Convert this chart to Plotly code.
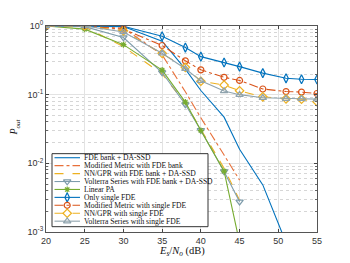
import plotly.graph_objects as go

# ---------------- data ----------------
x_bank = [20, 25, 30, 35, 38, 40, 43, 45, 48, 51]
fde_bank_dassd = [1.0, 1.0, 0.98, 0.60, 0.235, 0.115, 0.047, 0.016, 0.00485, 0.0007]

x_bank45 = [20, 25, 30, 35, 38, 40, 43, 45]
mod_metric_bank = [1.0, 1.0, 0.93, 0.38, 0.11, 0.046, 0.0132, 0.0057]
nn_gpr_bank = [1.0, 0.97, 0.50, 0.20, 0.075, 0.032, 0.0085, 0.0029]
volterra_bank = [1.0, 0.98, 0.68, 0.21, 0.072, 0.0304, 0.0076, 0.00276]
linear_pa = [1.0, 0.90, 0.535, 0.228, 0.078, 0.030, 0.0077, 0.0007]

x_single = [20, 25, 30, 35, 38, 40, 43, 45, 48, 51, 53, 55]
only_single = [1.0, 1.0, 0.99, 0.71, 0.485, 0.358, 0.294, 0.256, 0.206, 0.173, 0.168, 0.166]
mod_metric_single = [1.0, 1.0, 0.90, 0.52, 0.311, 0.23, 0.179, 0.161, 0.121, 0.111, 0.109, 0.104]
nn_gpr_single = [1.0, 1.0, 0.85, 0.40, 0.25, 0.157, 0.138, 0.114, 0.093, 0.087, 0.086, 0.079]
volterra_single = [1.0, 1.0, 0.82, 0.40, 0.238, 0.159, 0.113, 0.10, 0.09, 0.087, 0.087, 0.086]

x_ticks = [20, 25, 30, 35, 40, 45, 50, 55]
y_ticks = [1e-3, 1e-2, 1e-1, 1]
y_ticktext = ["10<sup>-3</sup>", "10<sup>-2</sup>", "10<sup>-1</sup>", "10<sup>0</sup>"]
y_minor = [m * 10.0 ** e for e in (-3, -2, -1) for m in range(2, 10)]

names = [
    "FDE bank + DA-SSD",
    "Modified Metric with FDE bank",
    "NN/GPR with FDE bank + DA-SSD",
    "Volterra Series with FDE bank + DA-SSD",
    "Linear PA",
    "Only single FDE",
    "Modified Metric with single FDE",
    "NN/GPR with single FDE",
    "Volterra Series with single FDE",
]

BLUE = "#0072BD"
ORANGE = "#D95319"
ORANGE2 = "#E8703A"
YELLOW = "#EDB120"
GREY = "#7E9CAB"
GREY2 = "#8FA3AD"
GREEN = "#77AC30"

styles = [
    dict(color=BLUE, dash="solid", symbol=None, size=6),
    dict(color=ORANGE2, dash="dashdot", symbol=None, size=6),
    dict(color=YELLOW, dash="dash", symbol=None, size=6),
    dict(color=GREY, dash="solid", symbol="triangle-down-open", size=6.5),
    dict(color=GREEN, dash="solid", symbol="asterisk-open", size=5),
    dict(color=BLUE, dash="solid", symbol="diamond-tall-open", size=6.5),
    dict(color=ORANGE, dash="dashdot", symbol="circle-open", size=6),
    dict(color=YELLOW, dash="dash", symbol="diamond-open", size=6.5),
    dict(color=GREY2, dash="solid", symbol="triangle-up-open", size=6.5),
]

series = [
    (x_bank, fde_bank_dassd),
    (x_bank45, mod_metric_bank),
    (x_bank45, nn_gpr_bank),
    (x_bank45, volterra_bank),
    (x_bank45, linear_pa),
    (x_single, only_single),
    (x_single, mod_metric_single),
    (x_single, nn_gpr_single),
    (x_single, volterra_single),
]

fig = go.Figure()
for (xs, ys), st, nm in zip(series, styles, names):
    mode = "lines+markers" if st["symbol"] else "lines"
    fig.add_trace(go.Scatter(
        x=xs, y=ys, name=nm, mode=mode, showlegend=False,
        line=dict(color=st["color"], dash=st["dash"], width=1.1),
        marker=dict(symbol=st["symbol"] or "circle", size=st["size"],
                    color=st["color"], line=dict(color=st["color"], width=1.2)),
    ))

# ---------------- layout geometry (window pixel coordinates) ----------------
PAGE_OFF = 8  # default body margin of the html page
L, R, T, B = 46, 317, 19, 232
W, H = 350, 263


def px_to_paper(px, py):
    return (px - L) / (R - L), (B - py) / (B - T)


# ---------------- custom compact legend (pixel overlay axes) ----------------
leg_left, leg_right, leg_top, leg_bot = 52, 208, 151, 226.5
row0, row_gap = 155.2, 8.2

fig.add_trace(go.Scatter(
    x=[leg_left, leg_right, leg_right, leg_left, leg_left],
    y=[leg_top, leg_top, leg_bot, leg_bot, leg_top],
    mode="lines", fill="toself", fillcolor="white",
    line=dict(color="#333", width=1), xaxis="x2", yaxis="y2",
    showlegend=False, hoverinfo="skip"))

for i, (st, nm) in enumerate(zip(styles, names)):
    yy = row0 + i * row_gap
    fig.add_trace(go.Scatter(
        x=[54.5, 80], y=[yy, yy], mode="lines", xaxis="x2", yaxis="y2",
        showlegend=False, hoverinfo="skip",
        line=dict(color=st["color"], dash=st["dash"], width=1.1)))
    if st["symbol"]:
        fig.add_trace(go.Scatter(
            x=[67.2], y=[yy], mode="markers", xaxis="x2", yaxis="y2",
            showlegend=False, hoverinfo="skip",
            marker=dict(symbol=st["symbol"], size=st["size"], color=st["color"],
                        line=dict(color=st["color"], width=1.2))))
    fig.add_annotation(x=81.5, y=yy, xref="x2", yref="y2", text=nm,
                       showarrow=False, xanchor="left", yanchor="middle",
                       font=dict(family="Liberation Serif", size=7.6, color="#111"))

# axis titles (paper coordinates)
ax_, ay_ = px_to_paper(15, 124)
fig.add_annotation(x=ax_, y=ay_, xref="paper", yref="paper",
                   text="<i>P<sub>out</sub></i>", textangle=-90, showarrow=False,
                   xanchor="center", yanchor="middle",
                   font=dict(family="Liberation Serif", size=10, color="#111"))
bx_, by_ = px_to_paper(182, 252)
fig.add_annotation(x=bx_, y=by_, xref="paper", yref="paper",
                   text="<i>E<sub>s</sub></i>/<i>N<sub>o</sub></i> (dB)",
                   showarrow=False, xanchor="center", yanchor="middle",
                   font=dict(family="Liberation Serif", size=10.5, color="#111"))

tickfont = dict(family="Liberation Sans", size=9, color="#333")
fig.update_layout(
    width=W, height=H,
    margin=dict(l=L - PAGE_OFF, r=W - R + PAGE_OFF, t=T - PAGE_OFF, b=H - B + PAGE_OFF),
    paper_bgcolor="white", plot_bgcolor="white",
    showlegend=False,
    xaxis=dict(
        range=[20, 55], tickvals=x_ticks, ticks="inside", ticklen=3,
        tickcolor="#444", showline=True, linecolor="#555", linewidth=1,
        mirror="ticks", showgrid=True, gridcolor="#e3e3e3", gridwidth=1,
        zeroline=False, tickfont=tickfont,
    ),
    yaxis=dict(
        type="log", range=[-3, 0], tickmode="array", tickvals=y_ticks,
        ticktext=y_ticktext, ticks="inside", ticklen=3, tickcolor="#444",
        showline=True, linecolor="#555", linewidth=1, mirror="ticks",
        showgrid=True, gridcolor="#e3e3e3", gridwidth=1, zeroline=False,
        tickfont=tickfont,
        minor=dict(tickmode="array", tickvals=y_minor, ticks="inside",
                   ticklen=2, tickcolor="#666", showgrid=True,
                   gridcolor="#d6d6d6", griddash="dot", gridwidth=1),
    ),
    xaxis2=dict(overlaying="x", range=[L, R], visible=False, fixedrange=True),
    yaxis2=dict(overlaying="y", range=[B, T], visible=False, fixedrange=True),
)

fig.write_html("out.html")
